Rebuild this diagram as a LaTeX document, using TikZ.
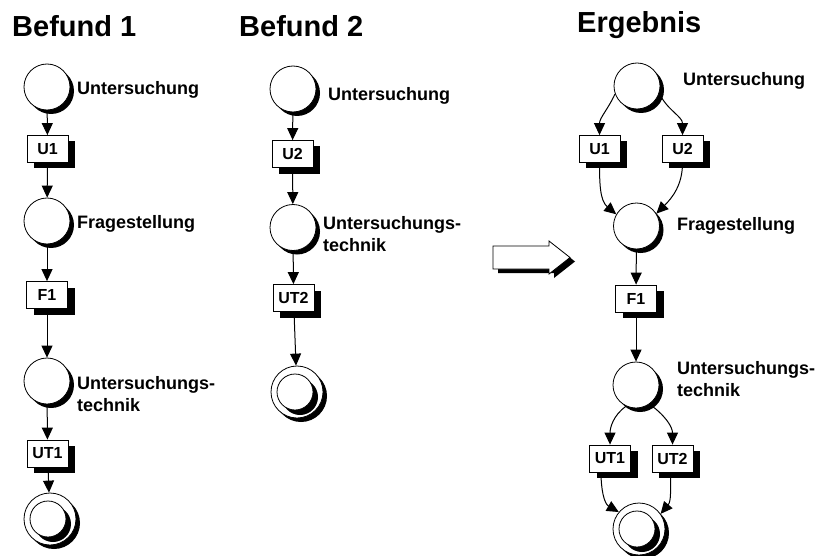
\documentclass[tikz,border=0pt]{standalone}
\usepackage{fontspec}
\setmainfont{Liberation Sans}
\usetikzlibrary{arrows.meta,shadows}

\begin{document}
\begin{tikzpicture}[x=1pt,y=-1pt,
  title/.style={anchor=base west, inner sep=0pt, font=\fontsize{29}{34}\selectfont\bfseries},
  lbl/.style={anchor=base west, inner sep=0pt, font=\fontsize{18}{22}\selectfont\bfseries},
  lbltwo/.style={anchor=west, inner sep=0pt, align=left, font=\fontsize{18}{22}\selectfont\bfseries},
  blackshadow/.style={drop shadow={shadow xshift=#1, shadow yshift=-#1, fill=black, opacity=1}},
  place/.style={circle, draw, line width=0.8pt, fill=white, minimum size=46pt, inner sep=0pt, blackshadow=4pt},
  endouter/.style={circle, draw, line width=0.8pt, fill=white, minimum size=52pt, inner sep=0pt, blackshadow=4pt},
  endinner/.style={circle, draw, line width=0.8pt, fill=white, minimum size=36pt, inner sep=0pt, blackshadow=5pt},
  trans/.style={rectangle, draw, line width=0.8pt, fill=white, minimum width=41pt, minimum height=27pt,
     inner sep=0pt, font=\fontsize{16}{19}\selectfont\bfseries,
     drop shadow={shadow xshift=7pt, shadow yshift=-6pt, fill=black, opacity=1}},
  flow/.style={line width=1pt, -{Triangle[length=12pt,width=11pt]}},
]
\useasboundingbox (0,0) rectangle (818,556);

% ---------- Befund 1 ----------
\node[title] (t1) at (12,37) {Befund 1};
\node[place] (a1) at (47,87) {};
\node[lbl] (a1l) at (77,95) {Untersuchung};
\node[trans] (a2) at (47.5,149) {U1};
\node[place] (a3) at (47,221) {};
\node[lbl] (a3l) at (77,228) {Fragestellung};
\node[trans] (a4) at (47,295) {F1};
\node[place] (a5) at (47,381) {};
\node[lbltwo] (a5l) at (77,394.5) {Untersuchungs-\\technik};
\node[trans] (a6) at (47.5,453.5) {UT1};
\node[endouter] (a7) at (50,519) {};
\node[endinner] (a7i) at (48,519) {};

\draw[flow] (a1) -- (a2);
\draw[flow] (a2) -- (a3);
\draw[flow] (a3) -- (a4);
\draw[flow] (a4) -- (a5);
\draw[flow] (a5) -- (a6);
\draw[flow] (a6) -- (a7);

% ---------- Befund 2 ----------
\node[title] (t2) at (239,37) {Befund 2};
\node[place] (b1) at (293,89) {};
\node[lbl] (b1l) at (328,101) {Untersuchung};
\node[trans] (b2) at (292.5,154) {U2};
\node[place] (b3) at (293,227.5) {};
\node[lbltwo] (b3l) at (323,234.5) {Untersuchungs-\\technik};
\node[trans] (b4) at (293.5,298) {UT2};
\node[endouter] (b5) at (297,392) {};
\node[endinner] (b5i) at (295,392) {};

\draw[flow] (b1) -- (b2);
\draw[flow] (b2) -- (b3);
\draw[flow] (b3) -- (b4);
\draw[flow] (b4) -- (b5);

% ---------- block arrow between the columns ----------
\begin{scope}[shift={(5,4)}]
  \fill (493,246) -- (549,246) -- (549,241) -- (570,257.5) -- (549,274) -- (549,269) -- (493,269) -- cycle;
\end{scope}
\draw[line width=0.8pt, fill=white] (493,246) -- (549,246) -- (549,241) -- (570,257.5)
  -- (549,274) -- (549,269) -- (493,269) -- cycle;

% ---------- Ergebnis ----------
\node[title] (t3) at (577,33) {Ergebnis};
\node[place] (c1) at (637,86) {};
\node[lbl] (c1l) at (683,86) {Untersuchung};
\node[trans] (c2) at (599.5,149) {U1};
\node[trans] (c3) at (682.5,149) {U2};
\node[place] (c4) at (636.5,226) {};
\node[lbl] (c4l) at (677,230) {Fragestellung};
\node[trans] (c5) at (636,298.5) {F1};
\node[place] (c6) at (636,385) {};
\node[lbltwo] (c6l) at (677,379.5) {Untersuchungs-\\technik};
\node[trans] (c7) at (610,458.5) {UT1};
\node[trans] (c8) at (672.5,458.5) {UT2};
\node[endouter] (c9) at (639,529) {};
\node[endinner] (c9i) at (637,529) {};

\draw[flow] (c1.200) to[out=245, in=90] (c2.north);
\draw[flow] (c1.-18) to[out=-65, in=90] (c3.north);
\draw[flow] (c2.south) to[out=-90, in=140] (c4.150);
\draw[flow] (c3.south) to[out=-90, in=45] (c4.32);
\draw[flow] (c4) -- (c5);
\draw[flow] (c5) -- (c6);
\draw[flow] (c6.-115) to[out=-145, in=90] (c7.north);
\draw[flow] (c6.-55) to[out=-35, in=90] (c8.north);
\draw[flow] ([xshift=-9pt]c7.south) to[out=-90, in=150] (c9.140);
\draw[flow] ([xshift=-2pt]c8.south) to[out=-90, in=50] (c9.35);
\end{tikzpicture}
\end{document}
